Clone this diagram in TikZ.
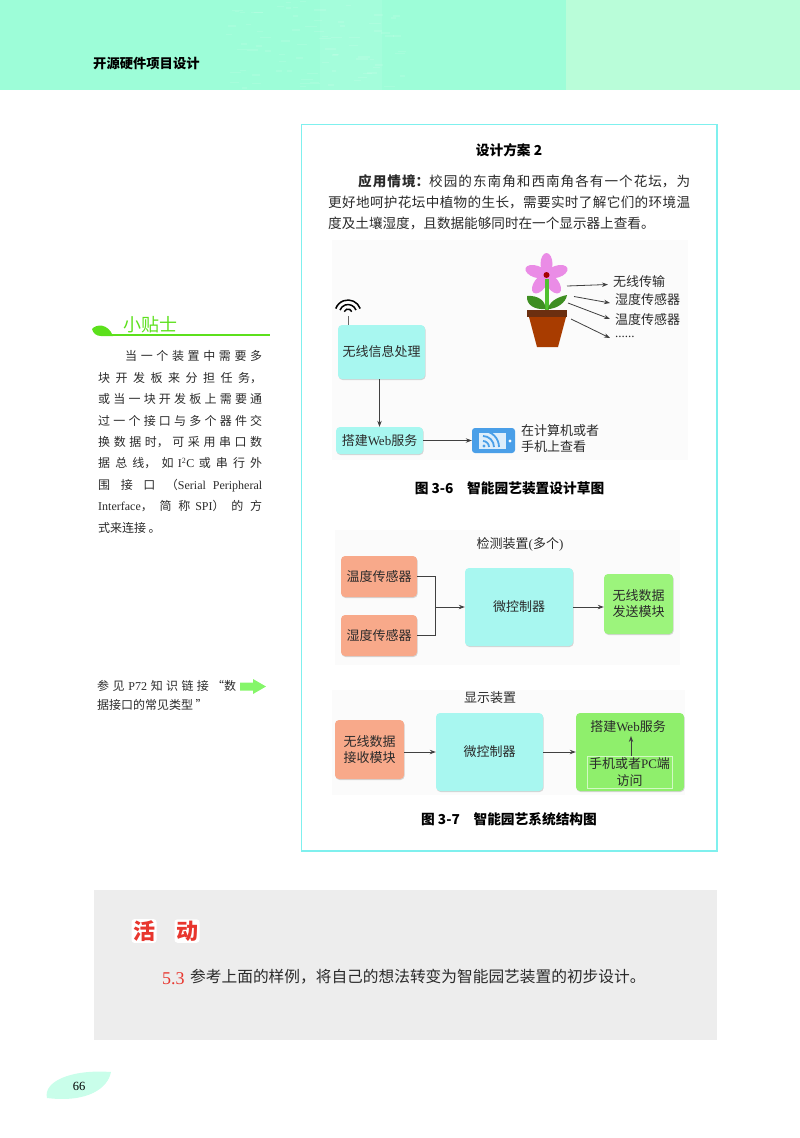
\documentclass[tikz,border=0pt]{standalone}
\usepackage{fontspec}
\setmainfont{Noto Sans CJK SC}
\newfontfamily\latinfont{Liberation Serif}
\XeTeXlinebreaklocale "zh"
\XeTeXlinebreakskip=0pt plus 4pt
\newcommand{\lat}[1]{{\latinfont #1}}
\newcommand{\fsize}[1]{\fontsize{#1}{#1}\selectfont}
\newcommand{\wideline}[1]{{\addfontfeature{LetterSpace=20}#1}}
\usetikzlibrary{arrows.meta,shadows}
\definecolor{bandleft}{HTML}{9DFDD8}
\definecolor{bandright}{HTML}{B9FDD9}
\definecolor{framecyan}{HTML}{7FF0EE}
\definecolor{boxcyan}{HTML}{A8F7F0}
\definecolor{boxorange}{HTML}{F8A98A}
\definecolor{boxgreen}{HTML}{9CF47C}
\definecolor{boxlime}{HTML}{8FEF6C}
\definecolor{tipgreen}{HTML}{5CE01C}
\definecolor{potbrown}{HTML}{A83C00}
\definecolor{rimbrown}{HTML}{6B2F10}
\definecolor{petalpink}{HTML}{EA8CE6}
\definecolor{leafgreen}{HTML}{3E8E22}
\definecolor{stemgreen}{HTML}{50C030}
\definecolor{devblue}{HTML}{4A9FE8}
\definecolor{actred}{HTML}{E8362E}
\definecolor{inktext}{HTML}{2A2A2A}
\tikzset{
  blockbox/.style={rounded corners=4,inner sep=0,align=center,text=inktext,font=\fsize{13},
    drop shadow={shadow xshift=.6pt,shadow yshift=-1pt,fill=black!35,opacity=.45}},
  cyanbox/.style={blockbox,fill=boxcyan},
  orangebox/.style={blockbox,fill=boxorange},
  greenbox/.style={blockbox,fill=boxgreen},
  limebox/.style={blockbox,fill=boxlime},
  linkarrow/.style={-{Stealth[length=6pt,width=4.4pt]},line width=.8pt,draw=black!75},
  plainlabel/.style={inner sep=0,text=inktext,font=\fsize{13}},
  caption/.style={inner sep=0,text=black,font=\fsize{13.7}\bfseries},
  bodytext/.style={inner sep=0,anchor=north west,align=justify,text=inktext}
}
\begin{document}
\begin{tikzpicture}[x=1pt,y=-1pt]
\useasboundingbox (0,0) rectangle (800,1138);
% page header
\fill[bandleft] (0,0) rectangle (566,90);
\fill[bandright] (566,0) rectangle (800,90);
\fill[white,opacity=.08] (320,0) rectangle (382,90);
\pgfmathsetseed{66}
\foreach \i in {1,...,80}{
  \pgfmathsetmacro{\cx}{225+rnd*175}
  \pgfmathsetmacro{\cy}{rnd*88}
  \fill[white,opacity=.1] (\cx,\cy) rectangle ++(4+rnd*8,1.5);
}
\node[inner sep=0,anchor=west,font=\fsize{13.3}\bfseries] (booktitle) at (93,64) {开源硬件项目设计};
% tip column
\fill[tipgreen] (92,329) .. controls (96,324) and (108,323) .. (113,336) -- (101,336) .. controls (96,336) and (93,333) .. (92,329) -- cycle;
\draw[tipgreen,line width=1.5pt] (110,335) -- (270,335);
\node[inner sep=0,anchor=west,text=tipgreen,font=\fsize{18}] (tiptitle) at (123,325) {小贴士};
\node[bodytext,text width=164,font=\fontsize{12}{21.4}\selectfont] (tiptext) at (98,350.5) {%
\hspace*{27pt}当一个装置中需要多\linebreak
块开发板来分担任务，\linebreak
或当一块开发板上需要通\linebreak
过一个接口与多个器件交\linebreak
换数据时，可采用串口数\linebreak
据总线，如 \lat{I\textsuperscript{2}C} 或串行外\linebreak
围接口（\lat{Serial Peripheral}\linebreak
\lat{Interface}，简称 \lat{SPI}）的方\linebreak
\wideline{式来连接。}};
\node[bodytext,text width=139,font=\fontsize{12}{19}\selectfont] (seealso) at (97,680) {%
参见 \lat{P72} 知识链接“数\linebreak
\wideline{据接口的常见类型”}};
\fill[boxgreen!85!green] (240,682.5) -- (253,682.5) -- (253,679) -- (266,686.5) -- (253,694) -- (253,690.5) -- (240,690.5) -- cycle;
% design frame
\draw[framecyan,line width=1.5pt] (301.5,124.5) rectangle (717,851);
\node[caption] (plantitle) at (509,150) {设计方案 2};
\node[bodytext,text width=362,font=\fontsize{13.6}{21}\selectfont] (scenario) at (328,174) {%
\hspace*{30pt}{\bfseries 应用情境：}校园的东南角和西南角各有一个花坛，为\linebreak
更好地呵护花坛中植物的生长，需要实时了解它们的环境温\linebreak
度及土壤湿度，且数据能够同时在一个显示器上查看。};
% sketch of the device
\fill[black!1.5] (332,240) rectangle (688,460);
\foreach \a in {0,72,144,216,288}
  \fill[petalpink,shift={(546.5,275)},rotate=\a] (0,-11) ellipse (6pt and 11pt);
\fill[stemgreen] (545,279) rectangle (548.5,311);
\fill[leafgreen] (527,296) .. controls (538,295) and (546,301) .. (545.5,309) .. controls (535,310) and (526,305) .. (527,296) -- cycle;
\fill[leafgreen] (567,295) .. controls (566,303) and (556,309) .. (548,309) .. controls (549,302) and (557,297) .. (567,295) -- cycle;
\fill[red!65!black] (546.5,275) circle (3pt);
\fill[potbrown] (529,317) -- (566,317) -- (558,347) -- (537,347) -- cycle;
\fill[rimbrown] (527,310) rectangle (567,317);
\node[plainlabel,anchor=west] (wirelesslabel) at (613,282) {无线传输};
\node[plainlabel,anchor=west] (moisturelabel) at (615,300) {湿度传感器};
\node[plainlabel,anchor=west] (templabel) at (615,320) {温度传感器};
\node[plainlabel,anchor=west] (morelabel) at (615,337) {\lat{......}};
\coordinate (tailA) at (567,286);
\coordinate (tailB) at (574,296.5);
\coordinate (tailC) at (568,303);
\coordinate (tailD) at (571,319);
\draw[linkarrow] (tailA) -- ([shift={(-5,2.5)}]wirelesslabel.west);
\draw[linkarrow] (tailB) -- ([shift={(-5,3)}]moisturelabel.west);
\draw[linkarrow] (tailC) -- ([shift={(-5,-1)}]templabel.west);
\draw[linkarrow] (tailD) -- ([shift={(-5,1)}]morelabel.west);
\node[cyanbox,minimum width=87,minimum height=54] (wirelessproc) at (381.5,352) {无线信息处理};
\node[cyanbox,minimum width=87,minimum height=27] (webserver) at (379.5,440.5) {搭建\lat{Web}服务};
\coordinate (antenna) at (348,316);
\draw[line width=.8pt,black!60] (antenna) -- (wirelessproc.north -| antenna);
\foreach \r in {4,8.5,13}
  \draw[line width=1.5pt] (348,313) ++(20:\r pt) arc (20:160:\r pt);
\draw[linkarrow] (wirelessproc.south -| webserver) -- (webserver.north);
\node[rounded corners=3,fill=devblue,minimum width=43,minimum height=25,inner sep=0] (viewer) at (493.5,440.5) {};
\fill[white!82!devblue] (479,433) rectangle (506,449);
\foreach \r in {6,11,16}
  \draw[devblue,line width=1.8pt] (483,447) ++(0:\r pt) arc (0:90:\r pt);
\fill[devblue] (484,446) circle (1.6pt);
\fill[white] (510,441) circle (1.6pt);
\draw[linkarrow] (webserver.east) -- (viewer.west);
\node[plainlabel,anchor=west] (viewlabelA) at (521,431) {在计算机或者};
\node[plainlabel,anchor=west] (viewlabelB) at (521,447) {手机上查看};
\node[caption] (captionA) at (509.5,488) {图 3-6\quad 智能园艺装置设计草图};
% system structure
\fill[black!1.5] (335,530) rectangle (680,665);
\fill[black!1.5] (332,690) rectangle (685,795);
\node[plainlabel] (detecttitle) at (520,544) {检测装置\lat{(}多个\lat{)}};
\node[orangebox,minimum width=76,minimum height=41] (tempsensor) at (379,576.5) {温度传感器};
\node[orangebox,minimum width=76,minimum height=41] (moistsensor) at (379,635.5) {湿度传感器};
\node[cyanbox,minimum width=108,minimum height=78] (mcuA) at (519,607) {微控制器};
\node[greenbox,minimum width=69,minimum height=60] (sender) at (638.5,604) {无线数据\\[3pt]发送模块};
\coordinate (joint) at (435,607);
\draw[line width=.8pt,black!75] (tempsensor.east) -| (joint);
\draw[line width=.8pt,black!75] (moistsensor.east) -| (joint);
\draw[linkarrow] (joint) -- (mcuA.west);
\draw[linkarrow] (mcuA.east) -- (mcuA.east -| sender.west);
\node[plainlabel] (displaytitle) at (490,698) {显示装置};
\node[orangebox,minimum width=69,minimum height=59] (receiver) at (369.5,749.5) {无线数据\\[3pt]接收模块};
\node[cyanbox,minimum width=107,minimum height=78] (mcuB) at (489.5,752) {微控制器};
\node[limebox,minimum width=108,minimum height=78] (webbox) at (630,752) {};
\node[plainlabel] (webservice) at (628,727) {搭建\lat{Web}服务};
\node[draw=white!60!boxlime,line width=.4pt,inner sep=0,minimum width=85,minimum height=32,align=center,text=inktext,font=\fontsize{13}{16.5}\selectfont] (phoneaccess) at (629.5,772) {手机或者\lat{PC}端\\访问};
\draw[linkarrow] (phoneaccess.north -| 631,0) -- (631,736);
\draw[linkarrow] (receiver.east |- mcuB.west) -- (mcuB.west);
\draw[linkarrow] (mcuB.east) -- (webbox.west);
\node[caption] (captionB) at (509,819) {图 3-7\quad 智能园艺系统结构图};
% activity block
\fill[black!7] (94,890) rectangle (717,1040);
\node[fill=white,rounded corners=3,inner sep=1.5pt,text=actred,font=\fsize{22}\bfseries] (actA) at (144,931) {活};
\node[fill=white,rounded corners=3,inner sep=1.5pt,text=actred,font=\fsize{22}\bfseries] (actB) at (187,931) {动};
\node[inner sep=0,anchor=west,text=actred,font=\fsize{18}\latinfont] (actnum) at (162,979) {5.3};
\node[inner sep=0,anchor=west,text=inktext,font=\fsize{15.7}] (acttext) at (190,977) {参考上面的样例，将自己的想法转变为智能园艺装置的初步设计。};
% page number
\fill[bandleft!55!white] (47,1098) .. controls (43,1082) and (70,1069) .. (111,1072) .. controls (108,1088) and (88,1103) .. (47,1098) -- cycle;
\node[inner sep=0,font=\fsize{12.5}\latinfont] (pagenum) at (79,1086) {66};
\end{tikzpicture}
\end{document}
